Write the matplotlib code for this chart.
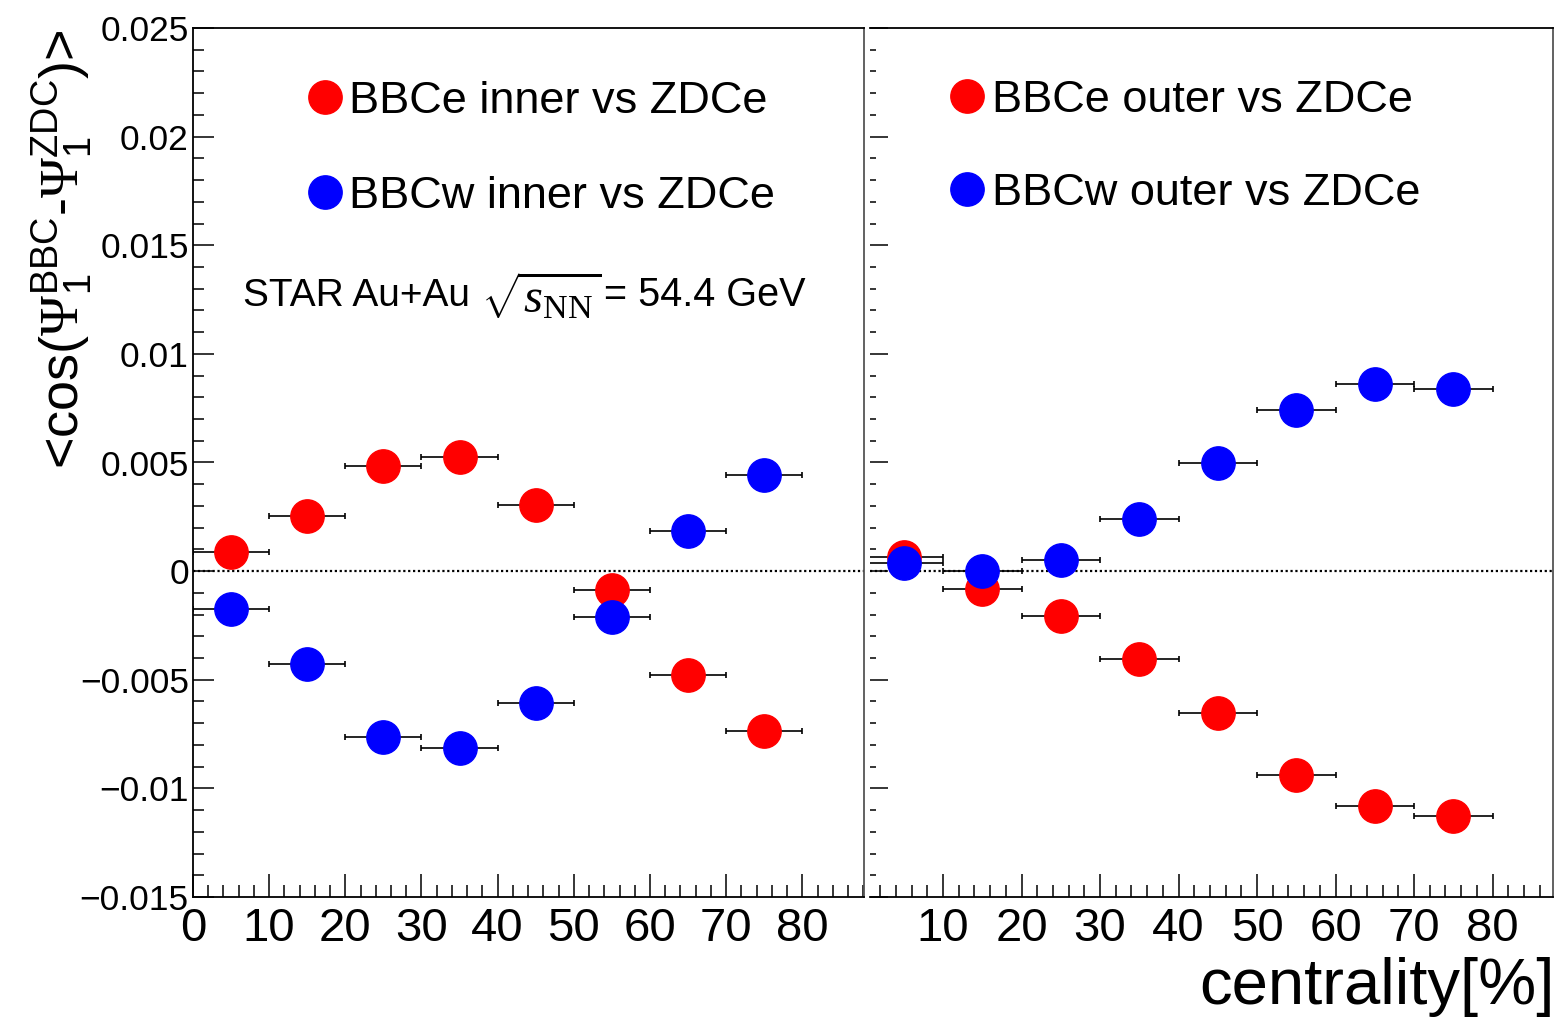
import matplotlib

matplotlib.use("Agg")
import matplotlib.pyplot as plt
from matplotlib.ticker import FuncFormatter, MultipleLocator

plt.rcParams["font.family"] = ["Liberation Sans", "DejaVu Sans"]
plt.rcParams["mathtext.fontset"] = "custom"
plt.rcParams["mathtext.rm"] = "Liberation Serif"
plt.rcParams["mathtext.it"] = "Liberation Serif:italic"
plt.rcParams["mathtext.sf"] = "Liberation Sans"

centrality = [5, 15, 25, 35, 45, 55, 65, 75]
bin_half_width = [5, 5, 5, 5, 5, 5, 5, 5]

bbce_inner = [0.00088, 0.00253, 0.00483, 0.00525, 0.00304, -0.00087, -0.00479, -0.00736]
bbcw_inner = [-0.00175, -0.00428, -0.00764, -0.00815, -0.00608, -0.00212, 0.00184, 0.00442]
bbce_outer = [0.00064, -0.00083, -0.00207, -0.00405, -0.00654, -0.00939, -0.01082, -0.01128]
bbcw_outer = [0.00037, 0.00000, 0.00050, 0.00239, 0.00497, 0.00741, 0.00861, 0.00838]

W, H = 1560, 1021
fig = plt.figure(figsize=(W / 100, H / 100), dpi=100)


def px_axes(x0, x1, y0, y1):
    return fig.add_axes([x0 / W, 1 - y1 / H, (x1 - x0) / W, (y1 - y0) / H])


ax_l = px_axes(193, 864, 28, 897)
ax_r = px_axes(870, 1553, 28, 897)


def draw_panel(ax, red, blue, xlim, ymaj, ymin):
    for vals, color in ((red, "#ff0000"), (blue, "#0000ff")):
        ax.errorbar(centrality, vals, xerr=bin_half_width, fmt="o", color=color,
                    markersize=24, ecolor="black", elinewidth=1.2, capsize=2.2,
                    capthick=1.2, zorder=3)
    ax.axhline(0, color="black", linestyle=(0, (1, 1.2)), linewidth=1.6, zorder=2)
    ax.set_xlim(*xlim)
    ax.set_ylim(-0.015, 0.025)
    ax.xaxis.set_major_locator(MultipleLocator(10))
    ax.xaxis.set_minor_locator(MultipleLocator(2))
    ax.yaxis.set_major_locator(MultipleLocator(0.005))
    ax.yaxis.set_minor_locator(MultipleLocator(0.001))
    ax.tick_params(axis="x", which="major", direction="in", length=16.5, width=1.1,
                   labelsize=34, pad=7, top=False)
    ax.tick_params(axis="x", which="minor", direction="in", length=8.6, width=1.1,
                   top=False)
    ax.tick_params(axis="y", which="major", direction="in", length=ymaj, width=1.1,
                   labelsize=25.5, pad=3, right=False)
    ax.tick_params(axis="y", which="minor", direction="in", length=ymin, width=1.1,
                   right=False)
    for side in ("top", "bottom", "left", "right"):
        ax.spines[side].set_linewidth(1.3)
    ax.spines["right"].set_color("#555555")


draw_panel(ax_l, bbce_inner, bbcw_inner, (0, 88.1), 15, 8)
draw_panel(ax_r, bbce_outer, bbcw_outer, (0.7, 87.7), 13, 4.5)
ax_r.spines["left"].set_visible(False)
ax_r.tick_params(axis="y", labelleft=False)

ax_l.yaxis.set_major_formatter(
    FuncFormatter(lambda v, _: "0" if abs(v) < 1e-12 else f"{v:g}".replace("-", "\u2212")))


def legend_entry(x_marker, x_text, y, color, label):
    fig.lines.append(plt.Line2D([x_marker / W], [1 - y / H], marker="o", markersize=24,
                                color=color, linestyle="none",
                                transform=fig.transFigure, figure=fig))
    fig.text(x_text / W, 1 - y / H, label, fontsize=32.5, ha="left", va="center_baseline")


legend_entry(325, 349, 97, "#ff0000", "BBCe inner vs ZDCe")
legend_entry(325, 349, 192, "#0000ff", "BBCw inner vs ZDCe")
legend_entry(967, 992, 96, "#ff0000", "BBCe outer vs ZDCe")
legend_entry(967, 992, 189, "#0000ff", "BBCw outer vs ZDCe")

# STAR label, built from three pieces so the square root can be larger
fig.text(243 / W, 1 - 306 / H, "STAR Au+Au", fontsize=28, ha="left", va="baseline")
fig.text(481 / W, 1 - 312 / H, r"$\sqrt{s_{\mathrm{NN}}}$", fontsize=35,
         ha="left", va="baseline")
fig.text(604 / W, 1 - 306 / H, "= 54.4 GeV", fontsize=28.5, ha="left", va="baseline")

fig.text(62 / W, 1 - 249 / H,
         r"<cos($\mathrm{\Psi}_{\mathsf{1}}^{\mathsf{BBC}}$-$\mathrm{\Psi}_{\mathsf{1}}^{\mathsf{ZDC}}$)>",
         fontsize=39, rotation=90, ha="center", va="center")

fig.text(1555 / W, 1 - 987 / H, "centrality[%]", fontsize=47, ha="right", va="center")

fig.savefig("out.png", dpi=100)
